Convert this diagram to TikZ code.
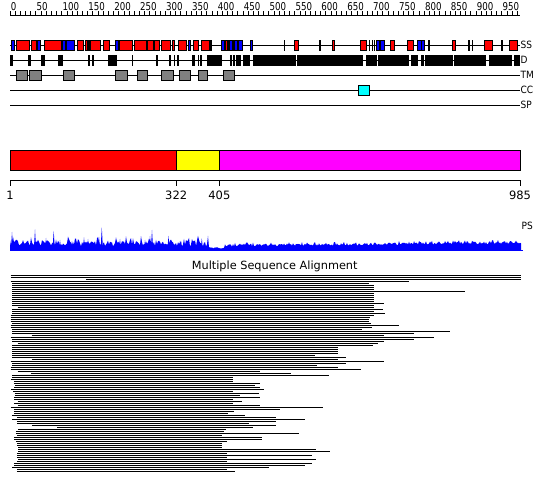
\documentclass[tikz,border=0pt]{standalone}
\usepackage{fontspec}
\setmainfont{DejaVu Sans}
\newfontfamily\rulerfont[FakeStretch=0.8]{DejaVu Sans}
\newfontfamily\labfont[FakeStretch=0.9]{DejaVu Sans}
\definecolor{ssred}{RGB}{255,0,0}
\definecolor{ssblue}{RGB}{0,0,255}
\definecolor{tmgrey}{RGB}{128,128,128}
\definecolor{cccyan}{RGB}{0,255,255}
\definecolor{domyellow}{RGB}{255,255,0}
\definecolor{dommag}{RGB}{255,0,255}
\definecolor{psblue}{RGB}{0,0,255}
\tikzset{
  trackline/.style={line width=1pt, black},
  featbox/.style={draw=black, line width=0.8pt},
  rulerlab/.style={font=\rulerfont\fontsize{10.8}{12}\selectfont, inner sep=0pt},
  tracklab/.style={font=\labfont\fontsize{10}{12}\selectfont, inner sep=0pt, anchor=west},
  domlab/.style={font=\fontsize{11.5}{13}\selectfont, inner sep=0pt},
  msaline/.style={line width=1pt, black},
}
\begin{document}
\begin{tikzpicture}[x=1pt,y=-1pt]
\useasboundingbox[fill=white] (0,0) rectangle (550,495);

% ruler
\draw[trackline] (10,15.5) -- (520,15.5);
\foreach \r in {0,10,...,980} \draw[line width=0.8pt] ({10+\r*0.51777},15.5) -- ({10+\r*0.51777},11.5);
\foreach \r in {0,50,...,950} \node[rulerlab, anchor=base west] (rl\r) at ({10.6+\r*0.51777},10.3) {\r};

% track lines
\foreach \yy in {45.5,60.5,75.5,90.5,105.5} \draw[trackline] (10,\yy) -- (520,\yy);
\node[tracklab] (lss) at (520.5,45) {SS};
\node[tracklab] (ld) at (520.5,60) {D};
\node[tracklab] (ltm) at (520.5,75) {TM};
\node[tracklab] (lcc) at (520.5,90) {CC};
\node[tracklab] (lsp) at (520.5,105) {SP};

% secondary structure
\foreach \a/\b/\c in {11/14/ssblue, 16.7/29.7/ssred, 31.3/36/ssred, 37/40/ssblue, 44.3/61.7/ssred, 62.7/65.3/ssblue, 66.7/74/ssblue, 77.3/83.3/ssred, 85.3/87.7/ssred, 90.5/100/ssred, 103.3/109.7/ssred, 115/118.3/ssblue, 119/132.3/ssred, 134.3/146.7/ssred, 147.7/153.3/ssred, 154.3/159.3/ssred, 161.7/170.3/ssred, 172.3/174.7/ssred, 178.7/186.7/ssred, 188.3/190.3/ssblue, 193.3/198.3/ssred, 201.7/209/ssred, 221.7/224.3/ssblue, 225/227.7/ssred, 229.2/232/ssblue, 233.9/237/ssblue, 238.3/242.3/ssblue, 250/252.7/ssblue, 294.3/298.5/ssred, 332.3/334.3/ssred, 360.3/366.3/ssred, 376.3/379.2/ssblue, 380.8/384.5/ssblue, 390.3/394.5/ssred, 407.7/413/ssred, 417.5/421.5/ssblue, 421.5/424.5/ssblue, 452.7/455.3/ssred, 484.3/492.5/ssred, 509.3/517.5/ssred}
  \draw[featbox, fill=\c] (\a,40.5) rectangle (\b,50.5);
\foreach \a/\b in {87.6/90.2, 209/211.7, 228/229, 232.5/233.5, 283.5/284.7, 319.3/320.7, 369/370.2, 371.5/372.7, 374/375.2, 427.5/429.5, 468.3/469.7, 471.7/473.2, 501/502.5}
  \fill[black] (\a,40) rectangle (\b,51);

% disorder
\foreach \a/\b in {10/12.7, 28/30.7, 41/44.7, 58/62.7, 88/90, 91.7/93.7, 108.3/116.7, 132/132.9, 156/157.7, 169/171, 173.5/175, 177/178.7, 192/194.5, 197.5/199, 200.3/201.7, 207/221.7, 230/231.7, 233.3/235, 236/241, 242.7/250, 253.3/295.5, 296.8/362.5, 366/376.5, 378.3/409, 411/418.3, 420.5/424, 425/452.5, 454/486, 488.5/511.5, 513.5/519.5}
  \fill[black] (\a,55) rectangle (\b,66);

% transmembrane
\foreach \a/\b in {16/27.3, 29.3/41.3, 63.3/74.3, 115.3/127.3, 137.3/147.7, 161.3/173.3, 179.3/190.3, 198/207.7, 223.3/234.5}
  \draw[featbox, fill=tmgrey] (\a,70.5) rectangle (\b,80.5);

% coiled coil
\draw[featbox, fill=cccyan] (358.3,85.5) rectangle (369.7,95.5);

% domains
\draw[featbox, fill=ssred] (10,150.5) rectangle (176.2,170.5);
\draw[featbox, fill=domyellow] (176.2,150.5) rectangle (219.4,170.5);
\draw[featbox, fill=dommag] (219.4,150.5) rectangle (520,170.5);
\draw[trackline] (10,180.5) -- (520,180.5);
\foreach \xx/\lab in {10/1, 176.2/322, 219.4/405, 520/985} {
  \draw[line width=0.8pt] (\xx,180.5) -- (\xx,185.7);
  \node[domlab] (d\lab) at (\xx,195) {\lab};
}

% PS profile
\pgfmathsetseed{7}
\fill[psblue] (10,250) -- plot[domain=10:521, samples=512, variable=\t]
  (\t,{250-((\t<209)?(3.5+5*rnd+7*pow(rnd,3)):((\t<225)?(1.5+1.5*rnd):(3+3*(\t-225)/295+2.5*rnd+2.5*pow(rnd,4))))}) -- (521,250) -- cycle;
\foreach \xx/\hh in {12/18, 35/20.5, 53.7/19, 101.8/22.7, 152/20, 84/12.7, 88/11, 145/10, 168.5/14, 201.8/11.7, 46/12, 60/10, 120/11, 195/10, 180/9, 27/9, 72/9, 150/14, 99/13}
  \fill[psblue] ({\xx-1.2},250) -- (\xx,{250-\hh}) -- ({\xx+1.2},250) -- cycle;
\draw[psblue, line width=1pt] (10,250) -- (523,250);
\node[tracklab] (lps) at (521.5,226.3) {PS};

% multiple sequence alignment
\node[font=\fontsize{11.3}{13}\selectfont, inner sep=0pt] (msat) at (274.7,266) {Multiple Sequence Alignment};
\foreach \a/\b [count=\i from 0] in {10.5/520.5, 10.5/520.5, 86/520.5, 10.5/409, 12.3/368.5, 12.3/373.8, 12.3/373.8, 12.3/373.8, 12.3/465, 12.3/373.8, 12.3/373.8, 12.3/373.8, 12.3/373.8, 12.3/373.8, 12.3/383.6, 12.3/373.8, 17.5/373.8, 12.3/382.6, 12.3/373.8, 12.3/385.4, 10.5/373.8, 10.5/370.3, 10.5/368.5, 10.5/368.5, 12.3/371.4, 10.5/399.4, 10.5/372, 12.3/361.5, 12.3/450.3, 12.3/413.5, 31.6/384.3, 10.5/433.5, 12.3/413.5, 12.3/383.6, 17.5/378.4, 12.3/373.1, 12.3/337.7, 12.3/337.7, 12.3/337.7, 12.3/337.7, 12.3/314.8, 12.3/346.4, 31.6/337.7, 10.5/383.6, 12.3/346.4, 12.3/316.6, 10.5/337.7, 10.5/360.8, 17.5/260.4, 30.5/291.3, 12.3/328.9, 12.3/233.4, 11.3/232.7, 14/233.4, 14/259.7, 14.7/254.8, 14/259.7, 11.3/264, 13.3/232.7, 14.7/259, 14.7/240.1, 14/259.7, 14/232.7, 17.5/241.8, 14/232.7, 17.5/259.7, 10.5/322.9, 14/279.7, 14/233.8, 14/228.2, 12.3/244.6, 16.8/275.9, 12.3/305.4, 16.8/275.9, 16.8/248.9, 32.3/275.9, 57.2/252.7, 18.3/225.7, 15.8/223.6, 15.8/299.4, 16.8/222.2, 14/261.8, 14/261.8, 15.8/227.1, 16.8/222.2, 16.8/222.2, 18.3/222.2, 18.3/315.9, 18.3/329.9, 16.8/227.1, 16.8/311.7, 16.8/227.1, 18.3/315.9, 16.8/227.1, 14/311.7, 14/304.7, 12.3/268.9, 16.8/227.1, 16.8/234.8}
  \draw[msaline] (\a,{275.5+2*\i}) -- (\b,{275.5+2*\i});
\end{tikzpicture}
\end{document}
